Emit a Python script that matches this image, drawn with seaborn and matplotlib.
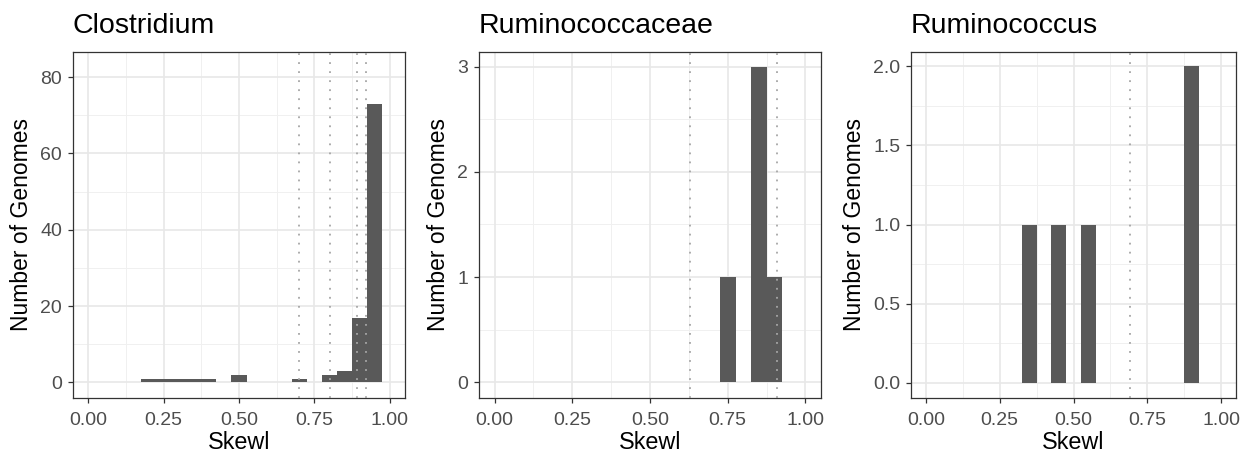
import numpy as np
import pandas as pd
import matplotlib
matplotlib.use("Agg")
import matplotlib.pyplot as plt
import seaborn as sns

# bin centres (binwidth 0.05) and counts
clos_centers = [0.20, 0.25, 0.30, 0.35, 0.40, 0.50, 0.70, 0.80, 0.85, 0.90, 0.95]
clos_counts = [1, 1, 1, 1, 1, 2, 1, 2, 3, 17, 73]
rumcae_centers = [0.75, 0.85, 0.90]
rumcae_counts = [1, 3, 1]
rumc_centers = [0.35, 0.45, 0.55, 0.90]
rumc_counts = [1, 1, 1, 2]

# dotted reference lines
clos_lines = [0.70, 0.80, 0.89, 0.92]
rumcae_lines = [0.63, 0.91]
rumc_lines = [0.69]

titles = ["Clostridium", "Ruminococcaceae", "Ruminococcus"]
x_ticks = [0.00, 0.25, 0.50, 0.75, 1.00]
x_labels = ["0.00", "0.25", "0.50", "0.75", "1.00"]
clos_yticks = [0, 20, 40, 60, 80]
rumcae_yticks = [0, 1, 2, 3]
rumc_yticks = [0.0, 0.5, 1.0, 1.5, 2.0]

sns.set_theme(style="white")
plt.rcParams['font.family'] = ['Liberation Sans', 'DejaVu Sans']

fig = plt.figure(figsize=(12.5, 4.58), dpi=100)
positions = [[0.0584, 0.131, 0.2656, 0.7555],
             [0.3832, 0.131, 0.2736, 0.7555],
             [0.7288, 0.131, 0.2600, 0.7555]]

panels = [
    (clos_centers, clos_counts, clos_lines, clos_yticks, [str(v) for v in clos_yticks], (-4.1, 86.6)),
    (rumcae_centers, rumcae_counts, rumcae_lines, rumcae_yticks, [str(v) for v in rumcae_yticks], (-0.15, 3.14)),
    (rumc_centers, rumc_counts, rumc_lines, rumc_yticks, ["%.1f" % v for v in rumc_yticks], (-0.095, 2.09)),
]

for i, (centers, counts, lines, yt, ytl, ylim) in enumerate(panels):
    ax = fig.add_axes(positions[i])
    df = pd.DataFrame({'skew': centers, 'n': counts})
    # grid first
    for xm in [-0.125 + 0.25 * k for k in range(1, 5)]:
        ax.axvline(xm, color='#F0F0F0', lw=0.7, zorder=0)
    ymid = [(yt[k] + yt[k + 1]) / 2 for k in range(len(yt) - 1)]
    for ym in ymid:
        ax.axhline(ym, color='#F0F0F0', lw=0.7, zorder=0)
    for xv in x_ticks:
        ax.axvline(xv, color='#E8E8E8', lw=1.2, zorder=0)
    for yv in yt:
        ax.axhline(yv, color='#E8E8E8', lw=1.2, zorder=0)

    sns.histplot(data=df, x='skew', weights='n', binwidth=0.05, binrange=(-0.025, 1.025),
                 ax=ax, color='#595959', alpha=1, edgecolor='none', linewidth=0, zorder=2)
    for v in lines:
        ax.axvline(v, color='#A6A6A6', lw=1.3, ls=(0, (1, 4)), zorder=3)

    ax.set_xlim(-0.05, 1.05)
    ax.set_ylim(*ylim)
    ax.set_xticks(x_ticks)
    ax.set_xticklabels(x_labels)
    ax.set_yticks(yt)
    ax.set_yticklabels(ytl)
    ax.tick_params(axis='both', which='major', length=3.8, width=0.9, color='#333333',
                   labelsize=14, labelcolor='#4D4D4D', pad=4, direction='out',
                   bottom=True, left=True)
    ax.tick_params(axis='x', pad=6)
    for s in ax.spines.values():
        s.set_color('#333333')
        s.set_linewidth(0.9)
    ax.set_xlabel('Skewl', fontsize=16.8, color='black', labelpad=2)
    ax.set_ylabel('Number of Genomes', fontsize=16.5, color='black', labelpad=5)
    ax.set_title(titles[i], loc='left', fontsize=20.5, color='black', pad=14)

plt.savefig('out.png', dpi=100)
